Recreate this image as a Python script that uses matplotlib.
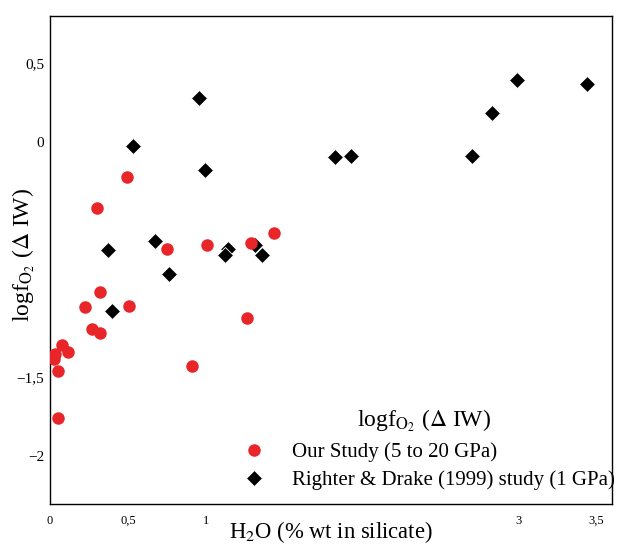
import matplotlib.pyplot as plt

plt.rcParams['font.family'] = ['Liberation Serif', 'DejaVu Serif']
plt.rcParams['mathtext.fontset'] = 'stix'

# Our Study (5 to 20 GPa)
our_h2o = [0.494, 0.301, 0.75, 1.006, 1.288, 1.436, 0.224, 0.32, 0.506, 0.269,
           0.32, 1.263, 0.91, 0.077, 0.115, 0.032, 0.026, 0.051, 0.051]
our_fo2 = [-0.223, -0.42, -0.68, -0.66, -0.643, -0.58, -1.05, -0.955, -1.045, -1.19,
           -1.217, -1.12, -1.427, -1.293, -1.338, -1.35, -1.382, -1.459, -1.758]

# Righter & Drake (1999) study (1 GPa)
rd_h2o = [0.955, 0.532, 0.99, 0.67, 0.37, 1.14, 1.12, 1.31, 1.36, 0.76, 0.397,
          1.827, 1.93, 2.70, 2.83, 2.99, 3.44]
rd_fo2 = [0.28, -0.03, -0.18, -0.63, -0.69, -0.68, -0.72, -0.66, -0.72, -0.84, -1.076,
          -0.10, -0.09, -0.09, 0.185, 0.39, 0.37]

xticks = [0, 0.5, 1, 3, 3.5]
xtick_labels = ['0', '0,5', '1', '3', '3,5']
yticks = [0.5, 0, -1.5, -2]
ytick_labels = ['0,5', '0', '\u22121,5', '\u22122']

fig = plt.figure(figsize=(6.19, 5.45), dpi=100)
ax = fig.add_axes([0.0808, 0.0752, 0.9079, 0.8954])

ax.plot(rd_h2o, rd_fo2, linestyle='none', marker='D', markersize=8.5, color='black',
        markeredgecolor='white', markeredgewidth=0.6, label='Righter & Drake (1999) study (1 GPa)', zorder=2)
ax.plot(our_h2o, our_fo2, linestyle='none', marker='o', markersize=9, color='#e8262a',
        markeredgecolor='none', label='Our Study (5 to 20 GPa)', zorder=3)

ax.set_xlim(0, 3.6)
ax.set_ylim(-2.306, 0.8)
ax.set_xticks(xticks)
ax.set_xticklabels(xtick_labels, fontsize=9)
ax.set_yticks(yticks)
ax.set_yticklabels(ytick_labels, fontsize=11)
ax.tick_params(axis='both', length=0)
ax.tick_params(axis='x', pad=8)
ax.tick_params(axis='y', pad=4)
for sp in ax.spines.values():
    sp.set_linewidth(1.0)

ax.set_xlabel(r'H$_2$O (% wt in silicate)', fontsize=16.3, va='baseline')
ax.xaxis.set_label_coords(0.5, -0.0697)
ax.set_ylabel(r'logf$_{\mathrm{O_2}}$ ($\Delta$ IW)', fontsize=17, va='baseline')
ax.yaxis.set_label_coords(-0.037, 0.51)

handles, labels = ax.get_legend_handles_labels()
leg = ax.legend(handles[::-1], labels[::-1], title=r'logf$_{\mathrm{O_2}}$ ($\Delta$ IW)',
                loc='upper left', bbox_to_anchor=(0.363, 0.268), bbox_transform=fig.transFigure,
                frameon=False, fontsize=15, title_fontsize=17, handletextpad=0.83,
                labelspacing=0.4, borderaxespad=0)
leg.set_clip_on(False)

fig.savefig('out.png', dpi=100)
